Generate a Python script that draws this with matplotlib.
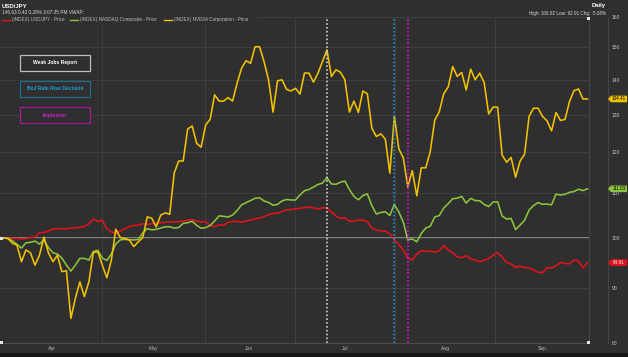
import matplotlib
matplotlib.use("Agg")
import matplotlib.pyplot as plt
import numpy as np
from matplotlib.patches import Rectangle, Polygon
from matplotlib.lines import Line2D
from matplotlib.transforms import IdentityTransform
from matplotlib.ticker import NullLocator, NullFormatter

plt.rcParams['font.family'] = ['Liberation Sans', 'DejaVu Sans']

W, H = 628, 357
BG = "#2f2f2f"

# normalised prices, one value per trading day (start = 100)
usdjpy = [100.00, 99.94, 99.94, 99.94, 99.79, 99.89, 100.11, 100.21, 101.13, 101.20,
          101.50, 101.93, 102.04, 102.00, 101.98, 102.15, 102.19, 102.30, 102.48, 103.07,
          104.17, 103.57, 103.90, 101.98, 101.33, 101.00, 101.50, 101.98, 102.48, 102.70,
          102.80, 103.09, 102.96, 103.09, 103.20, 103.31, 103.40, 103.51, 103.53, 103.53,
          103.68, 103.90, 104.01, 103.68, 103.46, 103.57, 102.70, 102.48, 102.85, 102.74,
          103.40, 103.62, 103.57, 103.42, 103.68, 103.90, 104.17, 104.35, 104.68, 105.08,
          105.40, 105.40, 105.80, 106.18, 106.27, 106.41, 106.54, 106.66, 106.82, 106.63,
          106.36, 106.66, 106.59, 105.73, 104.79, 104.30, 104.39, 103.64, 103.68, 103.90,
          103.88, 103.55, 102.11, 101.70, 101.54, 101.50, 100.90, 99.58, 98.63, 97.52,
          95.77, 95.47, 96.65, 97.33, 97.19, 97.27, 97.04, 97.33, 98.42, 97.52,
          96.88, 96.08, 95.89, 96.36, 95.61, 95.43, 95.12, 95.38, 95.73, 96.41,
          96.96, 96.06, 94.92, 94.64, 93.92, 94.22, 93.90, 93.88, 93.46, 92.98,
          92.91, 93.88, 93.88, 94.26, 94.94, 94.74, 94.66, 95.43, 95.22, 93.86,
          94.91]

nasdaq = [100.00, 99.94, 99.41, 98.67, 97.89, 99.00, 99.09, 99.36, 98.73, 99.58,
          98.00, 96.92, 96.65, 95.83, 94.42, 93.22, 94.42, 95.77, 95.77, 95.43,
          97.17, 97.44, 95.83, 95.33, 96.65, 98.73, 99.62, 99.72, 99.64, 99.60,
          99.70, 101.07, 102.04, 101.76, 101.87, 102.15, 102.43, 102.43, 102.15, 102.26,
          103.18, 103.31, 103.64, 102.74, 102.09, 102.26, 102.70, 103.68, 104.84, 104.72,
          104.57, 105.01, 106.03, 107.32, 107.80, 108.31, 108.84, 108.93, 108.22, 107.85,
          107.23, 107.41, 108.22, 108.54, 108.43, 108.43, 109.58, 110.58, 110.87, 111.47,
          112.06, 112.40, 113.69, 112.18, 112.11, 112.61, 112.90, 110.87, 109.28, 108.47,
          109.44, 109.86, 107.12, 105.24, 105.58, 105.75, 104.90, 107.43, 105.69, 103.46,
          99.58, 99.83, 99.20, 100.98, 102.15, 102.54, 104.57, 104.90, 106.59, 107.59,
          108.72, 108.84, 109.26, 107.73, 108.79, 108.31, 108.26, 107.41, 106.93, 107.96,
          108.03, 104.79, 104.12, 104.26, 101.82, 102.80, 103.86, 106.13, 107.16, 107.85,
          107.43, 107.50, 107.32, 109.79, 109.58, 109.77, 110.21, 110.40, 110.94, 110.63,
          111.03]

nvidia = [100.0, 99.9, 98.9, 98.5, 95.1, 97.5, 96.9, 94.4, 96.4, 100.2,
          96.9, 95.1, 96.4, 93.1, 93.3, 84.3, 88.0, 91.1, 88.3, 91.1,
          97.0, 97.1, 94.4, 91.9, 95.4, 101.9, 100.1, 99.9, 99.6, 98.2,
          99.2, 100.1, 104.6, 104.3, 102.4, 105.0, 105.5, 105.2, 114.8, 117.8,
          117.8, 126.1, 126.9, 122.3, 121.3, 127.2, 128.7, 135.6, 133.8, 133.8,
          134.8, 133.8, 139.0, 143.5, 145.8, 145.0, 150.2, 150.2, 145.5, 140.0,
          130.7, 139.7, 140.0, 137.2, 136.7, 137.5, 135.8, 142.0, 142.0, 139.3,
          142.0, 145.5, 149.2, 141.0, 143.0, 142.3, 140.0, 130.7, 133.8, 130.6,
          136.7, 135.9, 126.3, 124.1, 124.8, 123.4, 114.8, 129.6, 120.9, 118.6,
          111.5, 115.4, 109.4, 116.1, 116.1, 120.2, 128.5, 130.8, 135.9, 137.9,
          144.0, 141.0, 142.2, 137.0, 143.2, 140.0, 142.0, 139.2, 130.2, 132.1,
          132.1, 119.3, 117.5, 118.7, 113.8, 117.8, 119.5, 129.5, 131.8, 131.8,
          129.5, 128.3, 125.6, 130.6, 128.4, 128.7, 133.7, 136.8, 137.3, 134.4,
          134.41]

series_names = ["(INDEX) USD/JPY - Price", "(INDEX) NASDAQ Composite - Price",
                "(INDEX) NVIDIA Corporation - Price"]
series_colors = ["#e3121b", "#8cc43c", "#f2c200"]
tag_text_colors = ["white", "black", "black"]

month_labels = ["Apr", "May", "Jun", "Jul", "Aug", "Sep"]
month_label_pos = [10.9, 33.3, 54.65, 76.0, 98.4, 119.9]
month_grid_pos = [22.0, 44.8, 64.85, 87.2, 109.5]
y_ticks = [80, 90, 100, 110, 120, 130, 140, 150, 160]

events = ["Weak Jobs Report", "BoJ Rate Rise Decision", "Implosion"]
event_days = [72, 87, 90]
event_colors = ["#cfcfcf", "#1f92c8", "#e010e0"]
event_text_colors = ["#ffffff", "#22a3e0", "#d21ed2"]
event_edge_colors = ["#bdbdbd", "#1b6d8f", "#9c1c9c"]


def fx(px):
    return px / W


def fy(py):
    return 1 - py / H


fig = plt.figure(figsize=(W / 100, H / 100), dpi=100, facecolor=BG)
ax = fig.add_axes([0, 14 / H, 589 / W, 326 / H])
ax.set_facecolor(BG)

days = np.arange(len(nvidia))
ax.set_yscale('log')
ax.set_ylim(80, 160)
ax.set_xlim(-0.78, 130.34)

ax.yaxis.tick_right()
ax.set_yticks(y_ticks)
ax.set_yticklabels([str(t) for t in y_ticks])
ax.yaxis.set_minor_locator(NullLocator())
ax.yaxis.set_minor_formatter(NullFormatter())
ax.tick_params(axis='y', length=0, pad=16.5, labelsize=3.6, labelcolor='#c4c4c4')

ax.set_xticks(month_label_pos)
ax.set_xticklabels(month_labels)
ax.tick_params(axis='x', length=0, pad=2.5, labelsize=3.6, labelcolor='#b4b4b4')

ax.grid(axis='y', color='#3e3e3e', lw=0.8)
for g in month_grid_pos:
    ax.axvline(g, color='#3e3e3e', lw=0.8, zorder=0.5)

for s in ['top', 'left']:
    ax.spines[s].set_visible(False)
ax.spines['bottom'].set_color('#4c4c4c')
ax.spines['right'].set_color('#444444')

ax.axhline(100, color='#8e8e8e', lw=1.3, zorder=1)

for vals, c in zip([usdjpy, nasdaq, nvidia], series_colors):
    ax.plot(days, vals, color=c, lw=1.15, zorder=3, solid_joinstyle='round')

for d, c in zip(event_days, event_colors):
    ax.axvline(d, color=c, lw=1.2, ls=(0, (1, 1.3)), zorder=4)

# event boxes
for k, (name, tc, ec) in enumerate(zip(events, event_text_colors, event_edge_colors)):
    top = 54.5 + k * 26.3
    fig.add_artist(Rectangle((fx(20), fy(top + 16)), 70 / W, 16 / H,
                             transform=fig.transFigure, facecolor=BG,
                             edgecolor=ec, lw=0.9, zorder=5))
    fig.text(fx(55), fy(top + 8), name, color=tc, fontsize=3.6, weight='bold',
             ha='center', va='center', zorder=6)

# header
fig.add_artist(Rectangle((0, fy(25)), fx(258), 11 / H, transform=fig.transFigure,
                         facecolor=BG, edgecolor='none', zorder=2))
fig.text(fx(2), fy(6.5), "USD/JPY", fontsize=4.3, weight='bold', color='white',
         ha='left', va='center')
fig.text(fx(2), fy(13), "146.63 0.42 0.29% 3:07:35 PM VWAP:", fontsize=3.4,
         color='#d8d8d8', ha='left', va='center')
leg_x = [1.5, 70, 164]
for lx, name, c in zip(leg_x, series_names, series_colors):
    fig.add_artist(Line2D([fx(lx), fx(lx + 8)], [fy(20), fy(20)], color=c, lw=1.0,
                          transform=fig.transFigure, zorder=3))
    fig.text(fx(lx + 10.5), fy(20), name, fontsize=3.3, color='#bdbdbd',
             ha='left', va='center', zorder=3)

fig.text(fx(606), fy(6), "Daily", fontsize=4.3, weight='bold', color='white',
         ha='right', va='center')
fig.text(fx(606), fy(13), "High: 106.82 Low: 92.91 Chg: -5.08%", fontsize=3.3,
         color='#d8d8d8', ha='right', va='center')

# separator right of the plot and bottom strip
fig.add_artist(Line2D([fx(608), fx(608)], [fy(343), fy(17)], color='#444444', lw=0.8,
                      transform=fig.transFigure))
fig.add_artist(Rectangle((0, 0), 1, 4 / H, transform=fig.transFigure,
                         facecolor='#151515', edgecolor='none'))

# small range handles
for hx, hy in [(1.5, 342), (588, 342), (588, 18), (1.5, 238)]:
    fig.add_artist(Rectangle((fx(hx - 1.5), fy(hy + 1.5)), 3 / W, 3 / H,
                             transform=fig.transFigure, facecolor='#e6e6e6',
                             edgecolor='none', zorder=6))

# last value tags
for vals, c, tc in zip([usdjpy, nasdaq, nvidia], series_colors, tag_text_colors):
    yp = ax.transData.transform((0, vals[-1]))[1]
    tag = Polygon([(608, yp), (611, yp + 3.3), (627, yp + 3.3), (627, yp - 3.3),
                   (611, yp - 3.3)], closed=True, facecolor=c, edgecolor='none',
                  transform=IdentityTransform(), zorder=6)
    fig.add_artist(tag)
    fig.text(619, yp, f"{vals[-1]:.2f}", transform=IdentityTransform(), fontsize=3.3,
             color=tc, ha='center', va='center', zorder=7)

fig.savefig("out.png", dpi=100, facecolor=BG)
